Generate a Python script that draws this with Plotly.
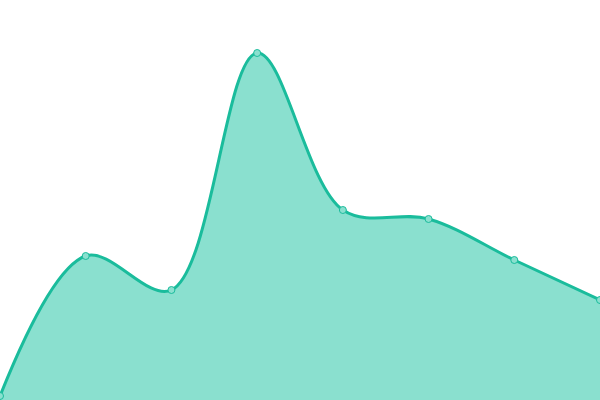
import plotly.graph_objects as go

# eight evenly spaced points
steps = [0, 1, 2, 3, 4, 5, 6, 7]
values = [4, 144, 110, 347, 190, 181, 140, 100]

line_color = "#1abc9c"
fill_color = "#8ae0cf"

fig = go.Figure()
fig.add_trace(go.Scatter(
    x=steps,
    y=values,
    mode="lines+markers",
    fill="tozeroy",
    fillcolor=fill_color,
    line=dict(color=line_color, width=3, shape="spline", smoothing=1.0),
    marker=dict(size=7, color=fill_color, line=dict(color=line_color, width=1)),
    hoverinfo="skip",
))

fig.update_layout(
    width=600,
    height=400,
    margin=dict(l=0, r=0, t=0, b=0),
    paper_bgcolor="white",
    plot_bgcolor="white",
    showlegend=False,
    xaxis=dict(range=[0, 7], visible=False, fixedrange=True),
    yaxis=dict(range=[0, 400], visible=False, fixedrange=True),
)

# the page's default body margin would push the chart off the window
fig.write_html(
    "out.html",
    config={"displayModeBar": False},
    post_script="document.body.style.margin='0';document.body.style.overflow='hidden';",
)
